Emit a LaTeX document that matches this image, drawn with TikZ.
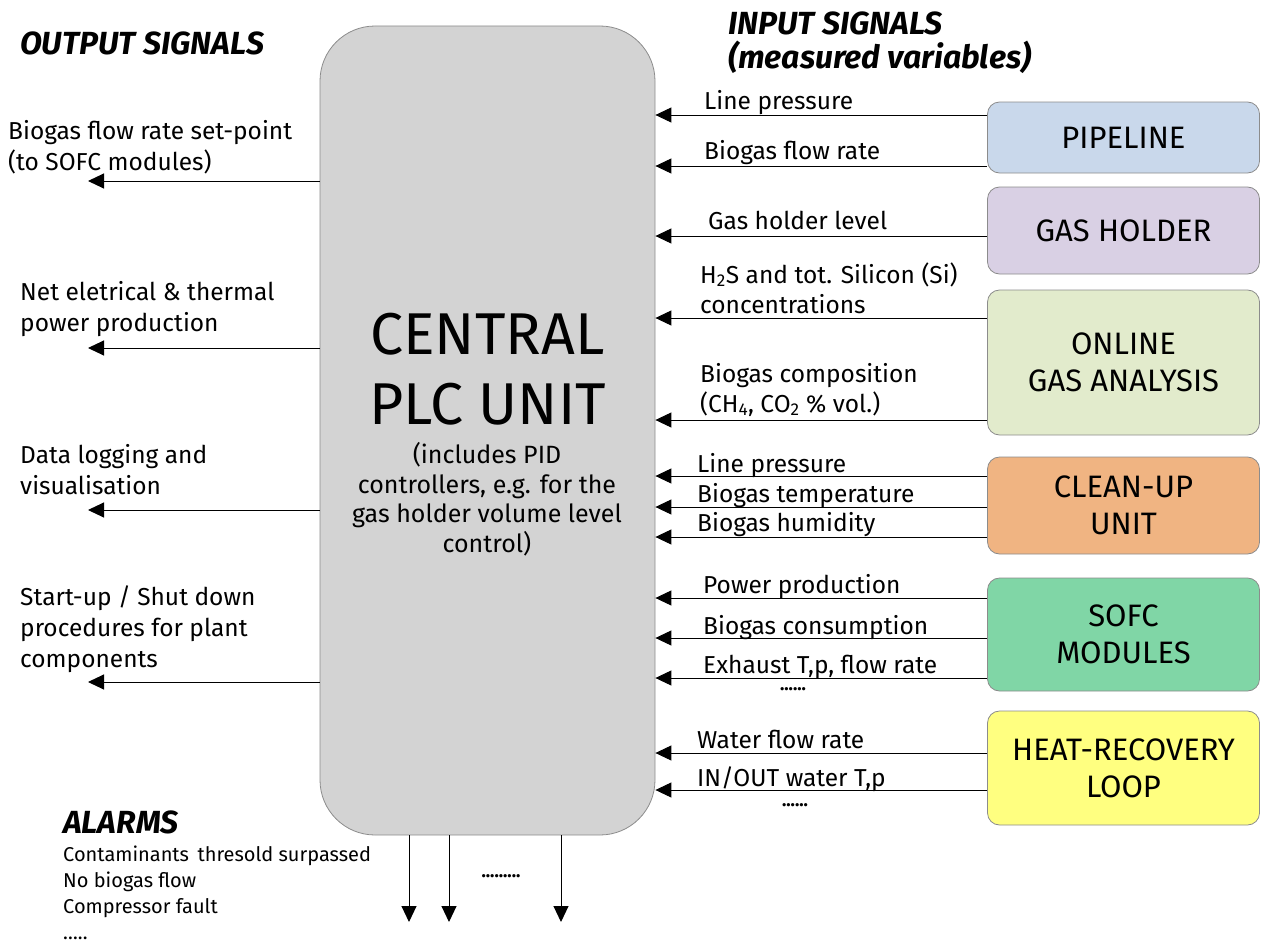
\documentclass[tikz,border=0pt]{standalone}
\usepackage{fontspec}
\setmainfont{Fira Sans}
\usetikzlibrary{arrows.meta}
\definecolor{plcfill}{HTML}{D3D3D3}
\definecolor{edgegray}{HTML}{8C8C8C}
\definecolor{pipefill}{HTML}{C9D8EB}
\definecolor{holderfill}{HTML}{D9D0E4}
\definecolor{analysisfill}{HTML}{E2EBCC}
\definecolor{cleanfill}{HTML}{F0B482}
\definecolor{sofcfill}{HTML}{80D6A6}
\definecolor{heatfill}{HTML}{FFFF80}
\tikzset{
  unitbox/.style={draw=edgegray, line width=0.8pt, rounded corners=12pt, minimum width=272pt,
    align=center, font=\fontsize{31}{37}\selectfont, inner sep=0pt},
  sig/.style={line width=1pt, -{Triangle[length=16pt,width=15pt]}},
  lbl/.style={anchor=base west, inner sep=0pt, align=left, font=\fontsize{24.5}{30}\selectfont},
  outlbl/.style={anchor=base west, inner sep=0pt, align=left, font=\fontsize{24.5}{31}\selectfont},
  head/.style={anchor=base west, inner sep=0pt, align=left, font=\fontsize{32}{34}\selectfont\bfseries\itshape},
  alarmtxt/.style={anchor=base west, inner sep=0pt, align=left, font=\fontsize{20}{25.8}\selectfont},
  dots/.style={inner sep=0pt, font=\fontsize{18}{20}\selectfont\bfseries}
}
\begin{document}
\begin{tikzpicture}[x=1pt,y=-1pt]
\useasboundingbox (0,0) rectangle (1261,942);

% central controller
\node[draw=edgegray, fill=plcfill, line width=0.8pt, rounded corners=55pt,
      minimum width=335pt, minimum height=809pt, inner sep=0pt] (plc) at (487.5,430.5) {};
\node[inner sep=0pt, align=center, font=\fontsize{59}{69.5}\selectfont] (plctitle) at (487.5,369) {CENTRAL\\PLC UNIT};
\node[inner sep=0pt, align=center, font=\fontsize{25}{29.5}\selectfont] (plcnote) at (487,499)
  {(includes PID\\controllers, e.g. for the\\gas holder volume level\\control)};

% plant units
\node[unitbox, fill=pipefill, minimum height=71pt] (pipe) at (1123.5,137.5) {PIPELINE};
\node[unitbox, fill=holderfill, minimum height=87pt] (holder) at (1123.5,230.5) {GAS HOLDER};
\node[unitbox, fill=analysisfill, minimum height=145pt] (analysis) at (1123.5,362.5) {ONLINE\\GAS ANALYSIS};
\node[unitbox, fill=cleanfill, minimum height=97pt] (clean) at (1123.5,505.5) {CLEAN-UP\\UNIT};
\node[unitbox, fill=sofcfill, minimum height=113pt] (sofc) at (1123.5,634.5) {SOFC\\MODULES};
\node[unitbox, fill=heatfill, minimum height=114pt] (heat) at (1123.5,768) {HEAT-RECOVERY\\LOOP};

% headings (base anchor of a multi-line node sits on its last line)
\node[head] (outhead) at (20,55) {OUTPUT SIGNALS};
\node[head] (inhead) at (728,69) {INPUT SIGNALS\\(measured variables)};
\node[head] (alarmhead) at (63,833) {ALARMS};

% input signals
\draw[sig] (pipe.west |- 0,115) -- (plc.east |- 0,115);
\draw[sig] (pipe.west |- 0,166) -- (plc.east |- 0,166);
\node[lbl] (l1) at (704,109) {Line pressure};
\node[lbl] (l2) at (704,159) {Biogas flow rate};

\draw[sig] (holder.west |- 0,236) -- (plc.east |- 0,236);
\node[lbl] (l3) at (708,229) {Gas holder level};

\draw[sig] (analysis.west |- 0,318) -- (plc.east |- 0,318);
\draw[sig] (analysis.west |- 0,420) -- (plc.east |- 0,420);
\node[lbl] (l4) at (700,313) {H\textsubscript{2}S and tot. Silicon (Si)\\concentrations};
\node[lbl] (l5) at (700,412) {Biogas composition\\(CH\textsubscript{4}, CO\textsubscript{2} \% vol.)};

\draw[sig] (clean.west |- 0,476) -- (plc.east |- 0,476);
\draw[sig] (clean.west |- 0,507) -- (plc.east |- 0,507);
\draw[sig] (clean.west |- 0,537) -- (plc.east |- 0,537);
\node[lbl] (l6) at (697,472) {Line pressure};
\node[lbl] (l7) at (697,502) {Biogas temperature};
\node[lbl] (l8) at (697,531) {Biogas humidity};

\draw[sig] (sofc.west |- 0,598) -- (plc.east |- 0,598);
\draw[sig] (sofc.west |- 0,638) -- (plc.east |- 0,638);
\draw[sig] (sofc.west |- 0,678) -- (plc.east |- 0,678);
\node[lbl] (l9) at (703,593) {Power production};
\node[lbl] (l10) at (703,634) {Biogas consumption};
\node[lbl] (l11) at (703,673) {Exhaust T,p, flow rate};
\node[dots] (d1) at (793,689) {......};

\draw[sig] (heat.west |- 0,753) -- (plc.east |- 0,753);
\draw[sig] (heat.west |- 0,790) -- (plc.east |- 0,790);
\node[lbl] (l12) at (697,748) {Water flow rate};
\node[lbl] (l13) at (697,786) {IN/OUT water T,p};
\node[dots] (d2) at (795,805) {......};

% output signals
\coordinate (o1) at (88,181);
\coordinate (o2) at (88,348);
\coordinate (o3) at (88,510);
\coordinate (o4) at (88,682);
\draw[sig] (plc.west |- o1) -- (o1);
\draw[sig] (plc.west |- o2) -- (o2);
\draw[sig] (plc.west |- o3) -- (o3);
\draw[sig] (plc.west |- o4) -- (o4);
\node[outlbl] (ol1) at (8,170) {Biogas flow rate set-point\\(to SOFC modules)};
\node[outlbl] (ol2) at (20,331) {Net eletrical \& thermal\\power production};
\node[outlbl] (ol3) at (20,494) {Data logging and\\visualisation};
\node[outlbl] (ol4) at (20,667) {Start-up / Shut down\\procedures for plant\\components};

% alarms
\coordinate (a1) at (409,922);
\coordinate (a2) at (449,922);
\coordinate (a3) at (561,922);
\draw[sig] (plc.south -| a1) -- (a1);
\draw[sig] (plc.south -| a2) -- (a2);
\draw[sig] (plc.south -| a3) -- (a3);
\node[dots] (d3) at (501,876) {.........};
\node[alarmtxt] (al) at (63,939) {Contaminants\, thresold surpassed\\No biogas flow\\Compressor fault\\\ldots..};
\end{tikzpicture}
\end{document}
